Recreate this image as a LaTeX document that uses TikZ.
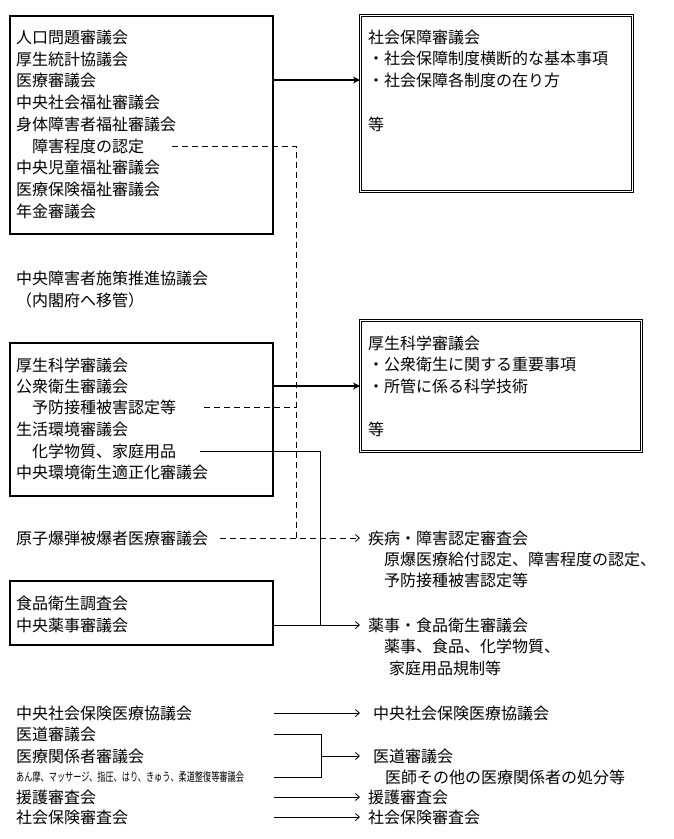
\documentclass[tikz,border=0pt]{standalone}
\usepackage{fontspec}
\newfontfamily\jpfont{Noto Sans CJK JP}
\usetikzlibrary{arrows.meta, positioning, calc}

\begin{document}
\begin{tikzpicture}[x=1pt, y=-1pt,
  every node/.style={inner sep=0pt},
  lbl/.style={anchor=west, font=\jpfont\fontsize{16}{18}\selectfont},
  frame/.style={draw, line width=1.6pt, anchor=north west},
  dframe/.style={draw, double, line width=0.8pt, double distance=1.6pt, anchor=north west},
  link/.style={line width=0.8pt},
  dlink/.style={line width=0.8pt, dash pattern=on 6pt off 4pt},
  boldarrow/.style={line width=1.8pt, -{Stealth[length=7pt, width=7pt]}},
  thinarrow/.style={line width=0.8pt, -{Straight Barb[length=4pt, width=7pt]}}
]
  \useasboundingbox (0,0) rectangle (673,839);

  % Old councils, first group
  \node[frame, minimum width=263pt, minimum height=218pt] (kbox1) at (9,15) {};
  \node[lbl] (jinko) at (16,37) {人口問題審議会};
  \node[lbl] (tokei) at (16,59) {厚生統計協議会};
  \node[lbl] (iryo) at (16,80) {医療審議会};
  \node[lbl] (chuosf) at (16,102) {中央社会福祉審議会};
  \node[lbl] (shintai) at (16,124) {身体障害者福祉審議会};
  \node[lbl] (shogai) at (32,146) {障害程度の認定};
  \node[lbl] (jido) at (16,167) {中央児童福祉審議会};
  \node[lbl] (hoken) at (16,189) {医療保険福祉審議会};
  \node[lbl] (nenkin) at (16,211) {年金審議会};

  % Social security council
  \node[dframe, minimum width=272pt, minimum height=176pt] (sbox1) at (360,15) {};
  \node[lbl] (shaho) at (368,37) {社会保障審議会};
  \node[lbl] (shaho1) at (368,58) {・社会保障制度横断的な基本事項};
  \node[lbl] (shaho2) at (368,80) {・社会保障各制度の在り方};
  \node[lbl] (shaho3) at (368,124) {等};

  \draw[boldarrow] (kbox1.east |- iryo) -- (sbox1.west |- iryo);

  % Moved to Cabinet Office
  \node[lbl] (shisaku) at (16,278) {中央障害者施策推進協議会};
  \node[lbl] (naikaku) at (16,300) {（内閣府へ移管）};

  % Old councils, second group
  \node[frame, minimum width=263pt, minimum height=153pt] (kbox2) at (9,342) {};
  \node[lbl] (kagakus) at (16,365) {厚生科学審議会};
  \node[lbl] (koshu) at (16,386) {公衆衛生審議会};
  \node[lbl] (yobo) at (32,407) {予防接種被害認定等};
  \node[lbl] (seikatsu) at (16,429) {生活環境審議会};
  \node[lbl] (kagaku) at (32,451) {化学物質、家庭用品};
  \node[lbl] (tekisei) at (16,472) {中央環境衛生適正化審議会};

  % Health sciences council
  \node[dframe, minimum width=281pt, minimum height=131pt] (sbox2) at (360,320) {};
  \node[lbl] (kosei) at (368,343) {厚生科学審議会};
  \node[lbl] (kosei1) at (368,364) {・公衆衛生に関する重要事項};
  \node[lbl] (kosei2) at (368,386) {・所管に係る科学技術};
  \node[lbl] (kosei3) at (368,429) {等};

  \draw[boldarrow] (kbox2.east |- koshu) -- (sbox2.west |- koshu);

  % Atomic bomb / certification
  \node[lbl] (genshi) at (16,538) {原子爆弾被爆者医療審議会};
  \node[lbl] (shippei) at (368,538) {疾病・障害認定審査会};
  \node[lbl] (shippei1) at (384,559) {原爆医療給付認定、障害程度の認定、};
  \node[lbl] (shippei2) at (384,580) {予防接種被害認定等};

  % Food and drugs
  \node[frame, minimum width=263pt, minimum height=64pt] (kbox3) at (9,580) {};
  \node[lbl] (shokuhin) at (16,603) {食品衛生調査会};
  \node[lbl] (yakuji) at (16,625) {中央薬事審議会};
  \node[lbl] (yshoku) at (368,625) {薬事・食品衛生審議会};
  \node[lbl] (yshoku1) at (384,646) {薬事、食品、化学物質、};
  \node[lbl] (yshoku2) at (389,668) {家庭用品規制等};

  \coordinate (jd) at (296,538);
  \coordinate (jc) at (320,625);
  \coordinate (ax) at (360,0);
  \draw[dlink] ([xshift=28pt]shogai.east) -| (jd);
  \draw[dlink] ([xshift=28pt]yobo.east) -- (yobo -| jd);
  \draw[dlink, thinarrow] ([xshift=12pt]genshi.east) -- (genshi -| ax);
  \draw[link] ([xshift=24pt]kagaku.east) -| (jc);
  \draw[thinarrow] (kbox3.east |- yakuji) -- (yakuji -| ax);

  % Remaining councils
  \node[lbl] (chuoiryo) at (16,713) {中央社会保険医療協議会};
  \node[lbl] (idou) at (16,734) {医道審議会};
  \node[lbl] (kankei) at (16,756) {医療関係者審議会};
  \node[anchor=west] (anma) at (16,777)
    {\scalebox{0.68}[1]{\jpfont\fontsize{12}{14}\selectfont あん摩、マッサージ、指圧、はり、きゅう、柔道整復等審議会}};
  \node[lbl] (engo) at (16,797) {援護審査会};
  \node[lbl] (shinsa) at (16,817) {社会保険審査会};

  \node[lbl] (chuoiryo2) at (373,713) {中央社会保険医療協議会};
  \node[lbl] (idou2) at (373,756) {医道審議会};
  \node[lbl] (idou3) at (385,777) {医師その他の医療関係者の処分等};
  \node[lbl] (engo2) at (368,797) {援護審査会};
  \node[lbl] (shinsa2) at (368,817) {社会保険審査会};

  \coordinate (bx) at (321,0);
  \draw[thinarrow] (chuoiryo -| kbox3.east) -- (chuoiryo -| ax);
  \draw[link] (idou -| kbox3.east) -| (bx |- anma) -- (anma -| kbox3.east);
  \draw[thinarrow] (kankei -| bx) -- (kankei -| ax);
  \draw[thinarrow] (engo -| kbox3.east) -- (engo -| ax);
  \draw[thinarrow] (shinsa -| kbox3.east) -- (shinsa -| ax);
\end{tikzpicture}
\end{document}
